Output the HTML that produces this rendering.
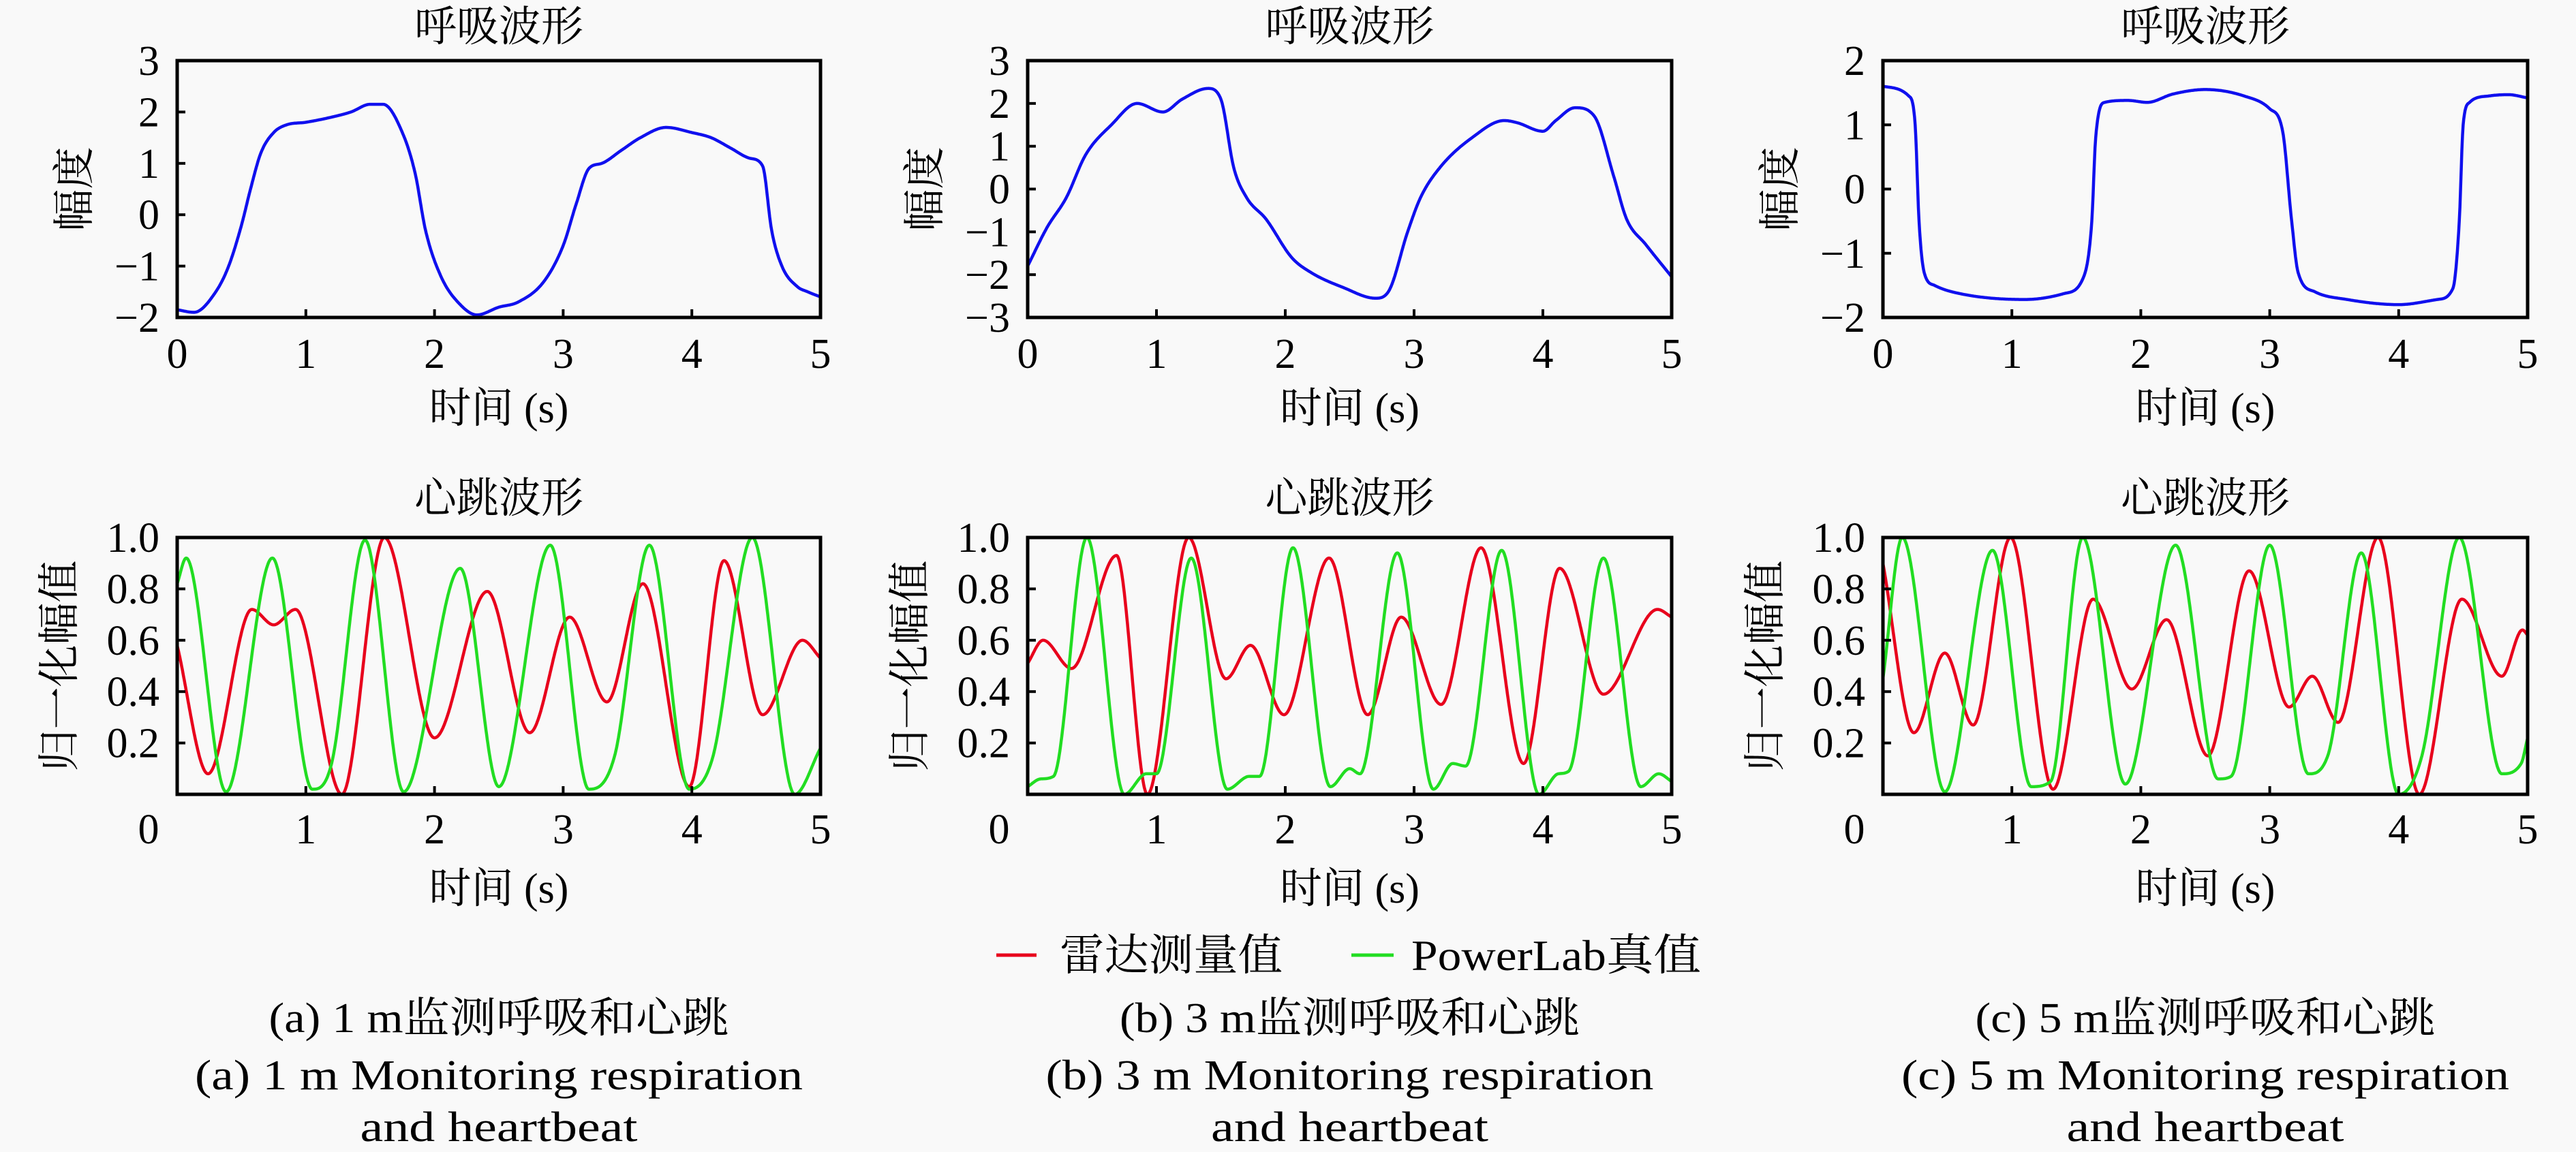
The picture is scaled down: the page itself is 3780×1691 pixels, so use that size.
<!DOCTYPE html>
<html><head><meta charset="utf-8"><style>
html,body{margin:0;padding:0;background:#f9f9f9;}
svg{display:block;}
text{font-family:"Liberation Serif","Noto Serif CJK SC",serif;fill:#000;}
</style></head><body>
<svg id="fig" width="3780" height="1691" viewBox="0 0 3780 1691" xmlns="http://www.w3.org/2000/svg">
<rect width="3780" height="1691" fill="#f9f9f9"/>
</svg>
<script>
// ---- data (time s, value) ----
const resp1T=[0,0.13,0.3,0.4,0.5,0.57,0.65,0.75,0.85,1.0,1.2,1.35,1.5,1.6,1.75,1.85,1.93,2.05,2.2,2.33,2.5,2.65,2.85,3.0,3.1,3.2,3.3,3.45,3.6,3.8,4.0,4.15,4.3,4.45,4.55,4.62,4.7,4.82,4.9,5.0];
const resp1V=[-1.85,-1.9,-1.5,-1.0,-0.2,0.5,1.2,1.6,1.75,1.8,1.9,2.0,2.15,2.15,1.6,0.8,-0.3,-1.2,-1.75,-1.95,-1.8,-1.7,-1.3,-0.6,0.2,0.9,1.0,1.25,1.5,1.7,1.6,1.5,1.3,1.1,0.95,-0.3,-1.0,-1.4,-1.5,-1.6];
const resp2T=[0,0.15,0.3,0.45,0.65,0.85,1.05,1.2,1.4,1.5,1.6,1.7,1.85,2.05,2.2,2.45,2.7,2.8,2.95,3.05,3.2,3.45,3.7,3.8,4.0,4.1,4.25,4.4,4.55,4.65,4.8,5.0];
const resp2V=[-1.8,-0.9,-0.2,0.8,1.5,2.0,1.8,2.1,2.35,2.1,0.5,-0.2,-0.7,-1.6,-1.95,-2.3,-2.55,-2.4,-1.0,-0.2,0.5,1.2,1.6,1.55,1.35,1.6,1.9,1.7,0.3,-0.7,-1.3,-2.05];
const resp3T=[0,0.2,0.25,0.28,0.32,0.4,0.6,1.1,1.4,1.55,1.62,1.65,1.72,1.9,2.05,2.25,2.5,2.8,3.0,3.1,3.17,3.22,3.35,3.6,4.0,4.3,4.42,4.47,4.5,4.55,4.7,4.85,5.0];
const resp3V=[1.6,1.45,1.0,-0.5,-1.3,-1.5,-1.63,-1.72,-1.63,-1.4,-0.5,0.8,1.35,1.38,1.35,1.48,1.55,1.45,1.25,0.9,-0.5,-1.3,-1.6,-1.72,-1.8,-1.72,-1.55,-0.5,1.0,1.35,1.45,1.47,1.42];

const radar1T=[0,0.24,0.58,0.75,0.92,1.28,1.61,2.0,2.41,2.74,3.05,3.34,3.62,3.98,4.25,4.55,4.86,5];
const radar1V=[0.58,0.08,0.72,0.66,0.72,0.0,1.0,0.22,0.79,0.24,0.69,0.36,0.82,0.03,0.91,0.31,0.60,0.53];
const pl1T=[0,0.07,0.38,0.74,1.05,1.2,1.46,1.76,2.2,2.5,2.9,3.2,3.4,3.67,3.98,4.16,4.47,4.8,5];
const pl1V=[0.82,0.92,0.01,0.92,0.02,0.12,0.99,0.01,0.88,0.03,0.97,0.02,0.15,0.97,0.02,0.14,1.0,0.0,0.18];

const radar2T=[0,0.12,0.34,0.69,0.93,1.25,1.54,1.73,1.99,2.34,2.64,2.9,3.21,3.52,3.85,4.13,4.47,4.89,5];
const radar2V=[0.51,0.6,0.49,0.93,0.0,1.0,0.45,0.58,0.31,0.92,0.31,0.69,0.35,0.96,0.12,0.88,0.39,0.72,0.69];
const pl2T=[0,0.1,0.2,0.46,0.75,0.92,1.0,1.27,1.55,1.72,1.8,2.06,2.35,2.5,2.58,2.87,3.15,3.3,3.4,3.68,3.97,4.12,4.2,4.47,4.76,4.9,5];
const pl2V=[0.03,0.06,0.07,1.0,0.0,0.08,0.08,0.92,0.02,0.07,0.07,0.96,0.03,0.1,0.08,0.94,0.02,0.12,0.11,0.95,0.0,0.08,0.09,0.92,0.03,0.08,0.05];

const radar3T=[0,0.24,0.48,0.7,0.99,1.32,1.63,1.93,2.2,2.52,2.84,3.15,3.33,3.53,3.84,4.16,4.49,4.8,4.96,5];
const radar3V=[0.9,0.24,0.55,0.27,1.0,0.02,0.76,0.41,0.68,0.15,0.87,0.34,0.46,0.28,1.0,0.0,0.76,0.46,0.64,0.62];
const pl3T=[0,0.15,0.48,0.85,1.15,1.3,1.55,1.88,2.27,2.6,2.7,3.0,3.3,3.45,3.71,4.0,4.18,4.47,4.8,4.95,5];
const pl3V=[0.45,1.0,0.01,0.95,0.03,0.05,1.0,0.04,0.97,0.06,0.07,0.97,0.08,0.15,0.94,0.0,0.15,1.0,0.08,0.12,0.22];

const xTickLabels=["0","1","2","3","4","5"];
const yTicks1=[3,2,1,0,-1,-2];
const yTicks2=[3,2,1,0,-1,-2,-3];
const yTicks3=[2,1,0,-1,-2];
const yTicksHeart=[1.0,0.8,0.6,0.4,0.2];
const legendLabels=["雷达测量值","PowerLab真值"];

// ---- helpers ----
const NS="http://www.w3.org/2000/svg";
const svg=document.getElementById('fig');
function mk(tag,attrs,parent){const e=document.createElementNS(NS,tag);for(const k in attrs)e.setAttribute(k,attrs[k]);(parent||svg).appendChild(e);return e;}
function monotone(xs,ys){
  const n=xs.length,d=[],m=new Array(n);
  for(let i=0;i<n-1;i++)d.push((ys[i+1]-ys[i])/(xs[i+1]-xs[i]));
  m[0]=d[0];m[n-1]=d[n-2];
  for(let i=1;i<n-1;i++){if(d[i-1]*d[i]<=0)m[i]=0;else{m[i]=(d[i-1]+d[i])/2;}}
  for(let i=0;i<n-1;i++){if(d[i]===0){m[i]=0;m[i+1]=0;continue;}
    const a=m[i]/d[i],b=m[i+1]/d[i],s=a*a+b*b;if(s>9){const t=3/Math.sqrt(s);m[i]=t*a*d[i];m[i+1]=t*b*d[i];}}
  return function(x){let i=0;while(i<n-2&&x>xs[i+1])i++;
    const h=xs[i+1]-xs[i],t=(x-xs[i])/h,t2=t*t,t3=t2*t;
    return (2*t3-3*t2+1)*ys[i]+(t3-2*t2+t)*h*m[i]+(-2*t3+3*t2)*ys[i+1]+(t3-t2)*h*m[i+1];};
}
function fmt(v){return v<0?"\u2212"+Math.abs(v):String(v);}

const cols=[{x0:260,x1:1204,resp:[resp1T,resp1V],ticks:yTicks1,radar:[radar1T,radar1V],pl:[pl1T,pl1V],cap:["(a) 1 m监测呼吸和心跳","(a) 1 m Monitoring respiration"]},
            {x0:1508,x1:2453,resp:[resp2T,resp2V],ticks:yTicks2,radar:[radar2T,radar2V],pl:[pl2T,pl2V],cap:["(b) 3 m监测呼吸和心跳","(b) 3 m Monitoring respiration"]},
            {x0:2763,x1:3709,resp:[resp3T,resp3V],ticks:yTicks3,radar:[radar3T,radar3V],pl:[pl3T,pl3V],cap:["(c) 5 m监测呼吸和心跳","(c) 5 m Monitoring respiration"]}];

function drawAxes(g,x0,x1,y0,y1,xs,ys,yTicks,yFmt,zeroShift,tickBase,name){
  yTicks.forEach(v=>{
    const y=ys(v);
    const tk=mk('line',{x1:x0,x2:x0+12,y1:y,y2:y,stroke:'#000','stroke-width':4},g);
    
    const t=mk('text',{x:x0-26,y:y+21,'font-size':62,'text-anchor':'end'},g);
    t.textContent=yFmt(v);
    
  });
  xTickLabels.forEach((lab,i)=>{
    const x=xs(i);
    const tk=mk('line',{x1:x,x2:x,y1:y1,y2:y1-12,stroke:'#000','stroke-width':4},g);
    
    const t=mk('text',{x:x-(i===0?zeroShift:0),y:tickBase,'font-size':62,'text-anchor':'middle'},g);
    t.textContent=lab;
    
  });
}
function drawLine(g,T,V,xs,ys,color,clip,name){
  const f=monotone(T,V);let d="";
  for(let k=0;k<=1000;k++){const t=T[0]+(T[T.length-1]-T[0])*k/1000;d+=(k?"L":"M")+xs(t).toFixed(1)+" "+ys(f(t)).toFixed(1);}
  const p=mk('path',{d:d,fill:'none',stroke:color,'stroke-width':4.5,'stroke-linejoin':'round','clip-path':'url(#'+clip+')'},g);
  
}

cols.forEach((c,ci)=>{
  // top respiration plot
  const y0=89,y1=466;
  const lo=c.ticks[c.ticks.length-1],hi=c.ticks[0];
  const xs=t=>c.x0+(c.x1-c.x0)*t/5;
  const ys=v=>y1-(y1-y0)*(v-lo)/(hi-lo);
  const g=mk('g',{});
  
  const cp=mk('clipPath',{id:'cr'+ci},g);mk('rect',{x:c.x0,y:y0,width:c.x1-c.x0,height:y1-y0},cp);
  const tt=mk('text',{x:(c.x0+c.x1)/2,y:60,'font-size':62,'text-anchor':'middle'},g);tt.textContent="呼吸波形";
  
  drawLine(g,c.resp[0],c.resp[1],xs,ys,'#1010ee','cr'+ci,'respiration-line');
  drawAxes(g,c.x0,c.x1,y0,y1,xs,ys,c.ticks,fmt,0,540,'respiration');
  const fr=mk('rect',{x:c.x0,y:y0,width:c.x1-c.x0,height:y1-y0,fill:'none',stroke:'#000','stroke-width':5},g);
  
  const xl=mk('text',{x:(c.x0+c.x1)/2,y:620,'font-size':62,'text-anchor':'middle'},g);xl.textContent="时间 (s)";
  
  const yl=mk('text',{x:0,y:0,'font-size':62,'text-anchor':'middle',transform:'translate('+(c.x0-130)+','+((y0+y1)/2)+') rotate(-90)'},g);yl.textContent="幅度";
  

  // bottom heartbeat plot
  const b0=789,b1=1166;
  const ysb=v=>b1-(b1-b0)*v;
  const h=mk('g',{});
  
  const cp2=mk('clipPath',{id:'ch'+ci},h);mk('rect',{x:c.x0,y:b0-3,width:c.x1-c.x0,height:b1-b0+3},cp2);
  const ht=mk('text',{x:(c.x0+c.x1)/2,y:752,'font-size':62,'text-anchor':'middle'},h);ht.textContent="心跳波形";
  
  drawLine(h,c.radar[0],c.radar[1],xs,ysb,'#e8001c','ch'+ci,'radar-line');
  drawLine(h,c.pl[0],c.pl[1],xs,ysb,'#22dd22','ch'+ci,'powerlab-line');
  drawAxes(h,c.x0,c.x1,b0,b1,xs,ysb,yTicksHeart,v=>v.toFixed(1),42,1238,'heartbeat');
  const fr2=mk('rect',{x:c.x0,y:b0,width:c.x1-c.x0,height:b1-b0,fill:'none',stroke:'#000','stroke-width':5},h);
  
  const xl2=mk('text',{x:(c.x0+c.x1)/2,y:1325,'font-size':62,'text-anchor':'middle'},h);xl2.textContent="时间 (s)";
  
  const yl2=mk('text',{x:0,y:0,'font-size':62,'text-anchor':'middle',transform:'translate('+(c.x0-152)+','+((b0+b1)/2)+') rotate(-90)'},h);yl2.textContent="归一化幅值";
  

  // captions
  const cx=(c.x0+c.x1)/2;
  const c1=mk('text',{x:cx,y:1515,'font-size':62,'text-anchor':'middle',textLength:675,lengthAdjust:'spacingAndGlyphs'});c1.textContent=c.cap[0];
  
  const c2=mk('text',{x:cx,y:1599,'font-size':62,'text-anchor':'middle',textLength:892,lengthAdjust:'spacingAndGlyphs'});c2.textContent=c.cap[1];
  
  const c3=mk('text',{x:cx,y:1675,'font-size':62,'text-anchor':'middle',textLength:407,lengthAdjust:'spacingAndGlyphs'});c3.textContent="and heartbeat";
  
});

// legend
const lg=mk('g',{});

const l1=mk('line',{x1:1462,x2:1521,y1:1402,y2:1402,stroke:'#e8001c','stroke-width':5},lg);

const t1=mk('text',{x:1555,y:1424,'font-size':64,textLength:327,lengthAdjust:'spacingAndGlyphs'},lg);t1.textContent=legendLabels[0];

const l2=mk('line',{x1:1983,x2:2045,y1:1402,y2:1402,stroke:'#22dd22','stroke-width':5},lg);

const t2=mk('text',{x:2071,y:1424,'font-size':64,textLength:425,lengthAdjust:'spacingAndGlyphs'},lg);t2.textContent=legendLabels[1];

</script>
</body></html>
